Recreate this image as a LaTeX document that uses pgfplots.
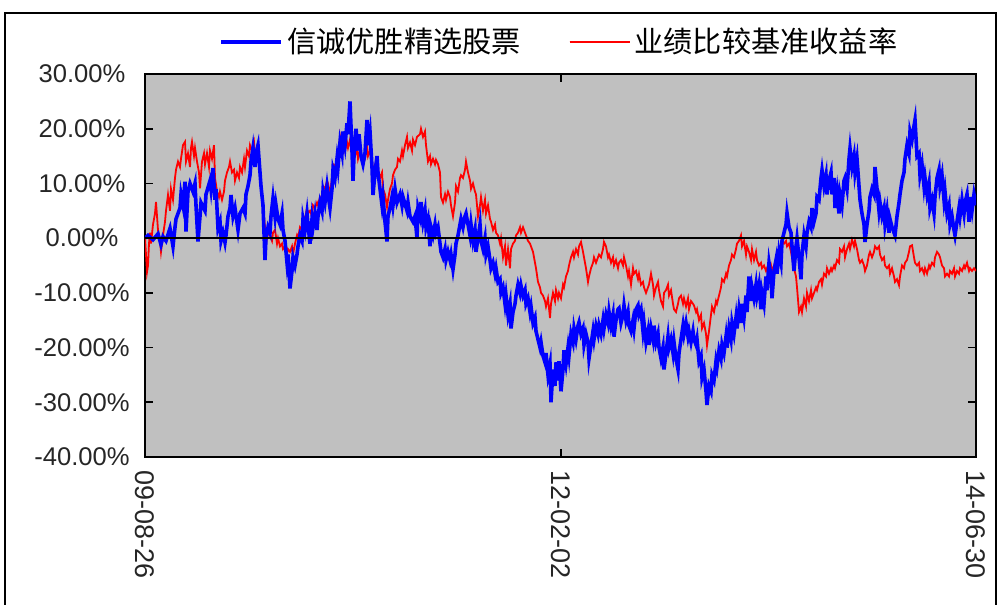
\documentclass[border=0pt]{standalone}
\usepackage{fontspec}
\setmainfont{Liberation Sans}
\newfontfamily\cjk{Noto Sans CJK SC}
\usepackage{pgfplots}
\usepackage{pgfplotstable}
\pgfplotsset{compat=1.18}
\definecolor{plotbg}{RGB}{192,192,192}

% x: position along the period 09-08-26 .. 14-06-30 (0..831), y: cumulative return in %
\pgfplotstableread[row sep=\\]{
x y\\
0 0\\ 3 0.5\\ 8 -0.3\\ 13 0.8\\ 16 -1.2\\ 18 0.3\\ 21 -0.5\\ 25 1.8\\ 28 -1.5\\ 30 2.0\\
31 3.5\\ 35 5.5\\ 36 8\\ 38 6\\ 40 10.3\\ 41 1.2\\ 43 8.5\\ 45 10\\ 48 8.5\\ 50 10\\
51 6\\ 53 -0.6\\ 55 4\\ 56 6.5\\ 60 5\\ 61 8\\ 65 10.5\\ 66 9\\ 68 12.8\\ 70 7\\
71 9\\ 73 1.8\\ 75 3\\ 76 -0.5\\ 78 1.0\\ 80 -0.8\\ 81 0.5\\ 83 4\\ 85 5.5\\ 86 7.9\\
88 4\\ 90 5.5\\ 93 1.5\\ 95 4.5\\ 98 5.5\\ 100 4.5\\ 101 8\\ 103 9.5\\ 105 11.5\\ 106 14\\
108 16.5\\ 110 13\\ 111 15.5\\ 113 17\\ 115 12\\ 116 9.5\\ 118 6\\ 120 -4\\ 121 0\\ 123 2\\
125 1\\ 126 4\\ 128 7.3\\ 130 4\\ 131 6\\ 133 3.5\\ 135 2.5\\ 137 4.5\\ 138 1.5\\ 140 -0.5\\
142 -4.5\\ 143 -3\\ 145 -9.2\\ 147 -6\\ 148 -3.5\\ 150 -5\\ 152 -3\\ 153 -1.5\\ 155 0.5\\ 157 -0.5\\
158 3.5\\ 160 1.5\\ 162 4.5\\ 163 2.5\\ 165 -1\\ 167 3.5\\ 168 2\\ 170 4.5\\ 172 1.5\\ 173 4\\
175 6.5\\ 177 5\\ 178 8.5\\ 180 6.5\\ 182 9.5\\ 183 8\\ 185 5.5\\ 187 9\\ 188 12.5\\ 190 11\\
192 14.5\\ 193 13\\ 195 17.5\\ 197 15.5\\ 198 19.5\\ 200 17\\ 202 21\\ 203 19\\ 205 25\\ 207 16\\
208 10.5\\ 209 15\\ 211 20\\ 213 16\\ 214 19\\ 216 15\\ 218 13.5\\ 220 15.5\\ 222 21.6\\ 223 17\\
225 19.5\\ 227 13\\ 228 7.9\\ 230 12\\ 232 15\\ 233 12\\ 235 9\\ 237 6\\ 238 7.5\\ 240 3\\
242 -0.6\\ 243 4\\ 245 5.5\\ 247 7.5\\ 248 6\\ 250 9\\ 252 6.5\\ 255 8\\ 257 6\\ 258 7.5\\
262 5\\ 263 6.5\\ 265 4\\ 268 3\\ 270 4\\ 272 0\\ 273 5.5\\ 275 4\\ 276 6.6\\ 278 3\\
280 5\\ 281 2\\ 283 3.5\\ 285 -1.5\\ 286 2\\ 288 0.5\\ 290 2.5\\ 291 1\\ 293 2\\ 295 -1\\
296 -2.5\\ 298 -3.5\\ 300 -2\\ 301 -4\\ 303 -2.5\\ 305 -4\\ 306 -3\\ 308 -5.7\\ 310 -3\\ 311 -1\\
313 0.5\\ 315 2.5\\ 316 3.5\\ 318 2\\ 320 4\\ 321 4.5\\ 323 2.5\\ 325 0.5\\ 326 2.5\\ 328 -0.5\\
330 1.5\\ 331 -2.5\\ 333 0\\ 335 2.5\\ 336 -0.5\\ 338 -2\\ 340 0\\ 341 -3\\ 343 -1.5\\ 345 -4\\
346 -5.5\\ 348 -4.5\\ 350 -6.5\\ 351 -5.5\\ 353 -8\\ 355 -7.5\\ 356 -10\\ 358 -9\\ 360 -12\\ 361 -10.5\\
363 -14\\ 365 -12\\ 366 -16.5\\ 368 -13.5\\ 370 -12\\ 371 -10.5\\ 373 -8.5\\ 375 -10\\ 376 -8.7\\ 378 -10.5\\
380 -9.5\\ 381 -12\\ 383 -11\\ 385 -13.5\\ 386 -12.5\\ 388 -15.5\\ 390 -14.5\\ 391 -17\\ 393 -18.5\\ 395 -20\\
396 -19\\ 398 -21.5\\ 400 -22.7\\ 401 -21\\ 403 -25\\ 405 -23\\ 406 -30\\ 408 -24\\ 410 -27\\ 411 -22.7\\
413 -26\\ 414 -22.5\\ 416 -28\\ 418 -24\\ 419 -20.5\\ 421 -23\\ 423 -20\\ 424 -21.5\\ 426 -17.5\\ 428 -19\\
429 -16.5\\ 431 -18.5\\ 433 -16\\ 434 -15.4\\ 436 -17.5\\ 438 -16.5\\ 439 -19.5\\ 441 -17.5\\ 443 -19\\ 444 -22\\
446 -19.5\\ 448 -17\\ 449 -18.5\\ 451 -16\\ 453 -17.5\\ 454 -16\\ 456 -17.5\\ 458 -15\\ 459 -16.5\\ 461 -14\\
463 -15.5\\ 464 -13.5\\ 466 -16\\ 468 -14\\ 469 -18\\ 471 -15\\ 473 -13\\ 474 -12.8\\ 476 -15.5\\ 478 -14\\
479 -12.3\\ 481 -15\\ 483 -13.5\\ 484 -16\\ 486 -17\\ 488 -15\\ 489 -16.5\\ 491 -13\\ 493 -12.3\\ 494 -14\\
496 -13\\ 498 -17\\ 499 -15.5\\ 501 -19\\ 503 -17\\ 504 -19.5\\ 506 -16.5\\ 508 -18.5\\ 509 -16\\ 511 -19\\
513 -17.5\\ 514 -20\\ 516 -22\\ 518 -20\\ 519 -24\\ 521 -21\\ 523 -18\\ 524 -20\\ 526 -18.5\\ 528 -21\\
529 -19\\ 531 -22\\ 533 -24\\ 534 -21\\ 536 -18.5\\ 538 -16\\ 539 -17.5\\ 541 -15.5\\ 543 -18\\ 544 -17\\
546 -19\\ 548 -17\\ 549 -18.5\\ 551 -19.5\\ 552 -18.5\\ 554 -22.5\\ 556 -21.5\\ 557 -25.5\\ 559 -24\\ 561 -28\\
562 -30.5\\ 564 -27\\ 566 -28\\ 567 -25\\ 569 -26\\ 571 -22.5\\ 572 -23.5\\ 574 -20.5\\ 576 -22\\ 577 -19.5\\
579 -21\\ 581 -18\\ 582 -20\\ 584 -16.5\\ 586 -18.5\\ 587 -15.5\\ 589 -17.5\\ 591 -14.5\\ 592 -16.5\\ 594 -13\\
596 -15.5\\ 597 -12\\ 599 -14.5\\ 601 -10.5\\ 602 -13.5\\ 604 -7\\ 606 -11.5\\ 607 -9\\ 609 -11\\ 611 -8.5\\
612 -10.5\\ 614 -8.5\\ 616 -13\\ 617 -10\\ 619 -12\\ 621 -7\\ 622 -9.5\\ 624 -4.5\\ 626 -7\\ 627 -11\\
629 -6\\ 631 -4\\ 632 -6.5\\ 634 -2.5\\ 636 -4.5\\ 637 -0.5\\ 639 1\\ 641 2.5\\ 642 4.6\\ 644 2\\
646 1\\ 647 -1.5\\ 649 -6\\ 651 -1.5\\ 652 0\\ 654 -3.5\\ 656 -7.5\\ 657 -3\\ 659 0.5\\ 661 -1.5\\
662 1\\ 664 3\\ 666 2\\ 667 5.5\\ 669 3\\ 671 4.5\\ 672 7.5\\ 674 7\\ 676 11\\ 677 12.4\\
679 9.5\\ 681 11.5\\ 682 8\\ 684 10.5\\ 686 12\\ 687 8\\ 689 11\\ 690 5.5\\ 692 8.5\\ 694 4.5\\
695 8\\ 697 6\\ 699 10.5\\ 700 11\\ 702 9\\ 704 14.5\\ 705 16.4\\ 707 13\\ 709 15\\ 710 12\\
712 14.5\\ 714 9.5\\ 715 7\\ 717 4.5\\ 719 2.5\\ 720 -0.7\\ 722 2.5\\ 724 5\\ 725 7.5\\ 727 9\\
729 8\\ 730 13\\ 732 9\\ 734 5\\ 735 6.5\\ 737 4\\ 739 5.5\\ 740 2.5\\ 742 5\\ 744 1\\
745 3.5\\ 747 2\\ 749 1\\ 750 0.5\\ 752 4\\ 754 6.5\\ 755 8\\ 757 10.5\\ 759 12\\ 760 14.5\\
762 17\\ 764 15.5\\ 765 19.5\\ 767 18\\ 769 20.5\\ 770 21.6\\ 772 15\\ 774 15.5\\ 775 11.5\\ 777 13.5\\
779 9.5\\ 780 11\\ 782 8\\ 784 10\\ 785 5.5\\ 787 7\\ 789 4.5\\ 790 7.5\\ 792 11\\ 794 12.5\\
795 9.5\\ 797 11.5\\ 799 7\\ 800 8.5\\ 802 4.5\\ 804 6\\ 805 2.5\\ 807 4\\ 809 1.5\\ 810 0.5\\
812 3\\ 814 5.5\\ 815 4\\ 817 7\\ 819 4.5\\ 820 6.5\\ 822 8\\ 824 3\\ 825 7.5\\ 827 5\\
829 8\\ 831 6\\
}\fund

\pgfplotstableread[row sep=\\]{
x y\\
0 0\\ 1 -3\\ 2 -6.2\\ 3 -5\\ 4 -1\\ 5 1\\ 6 -1\\ 8 2.5\\ 10 4.5\\ 11 6.6\\
13 1.5\\ 15 -0.5\\ 16 -2.5\\ 18 0.5\\ 20 3\\ 21 5\\ 23 7.9\\ 25 5\\ 26 9\\ 28 7\\
30 11\\ 31 12.5\\ 33 14\\ 35 13\\ 36 14.5\\ 38 17\\ 40 17.6\\ 41 14\\ 43 15.5\\ 45 13\\
46 16.5\\ 47 17.6\\ 49 15\\ 50 16.5\\ 52 14\\ 54 12\\ 55 9.1\\ 57 14\\ 59 15.5\\ 60 13.5\\
62 15.5\\ 64 13\\ 65 16\\ 67 14.5\\ 69 17\\ 70 11\\ 72 8.5\\ 74 7.5\\ 75 8.5\\ 77 7\\
79 8.5\\ 80 10.5\\ 82 12\\ 84 13\\ 85 14\\ 87 12\\ 89 12.5\\ 90 10.5\\ 92 12\\ 94 11\\
95 13\\ 97 12\\ 99 14.5\\ 100 13\\ 102 16\\ 104 15\\ 105 17\\ 107 16\\ 109 17.5\\ 110 15\\
112 16\\ 113 17.5\\ 115 12\\ 117 8\\ 118 6\\ 120 2\\ 122 0\\ 123 1\\ 125 0.5\\ 127 -0.5\\
128 1\\ 130 1.5\\ 132 -1\\ 133 0\\ 135 -1.5\\ 137 -1\\ 138 -2\\ 140 -1.5\\ 142 -3\\ 143 -2\\
145 -2.5\\ 147 -1.5\\ 148 -3\\ 150 -1\\ 152 0.5\\ 153 0\\ 155 2\\ 157 1.5\\ 158 4\\ 160 3.5\\
162 5.5\\ 163 4.5\\ 165 5\\ 167 4\\ 168 6\\ 170 5.5\\ 172 6.5\\ 173 6\\ 175 7.5\\ 177 7\\
178 9.5\\ 180 9\\ 182 10.5\\ 183 10\\ 185 8\\ 187 11\\ 188 13.5\\ 190 13\\ 192 14.5\\ 193 14\\
195 18.5\\ 197 16\\ 198 17.5\\ 200 16\\ 202 17.5\\ 203 16.5\\ 205 18\\ 207 15\\ 208 13.5\\ 210 15\\
212 16.5\\ 213 14.5\\ 215 16\\ 217 14\\ 218 13.5\\ 220 14.5\\ 222 17\\ 223 15\\ 225 16\\ 227 14\\
228 12\\ 230 13.5\\ 232 14\\ 233 12.5\\ 235 11\\ 237 12\\ 238 9\\ 240 8\\ 242 5.7\\ 243 7\\
245 9\\ 247 10\\ 248 11.5\\ 250 12.5\\ 252 13\\ 253 14.5\\ 255 14\\ 257 16\\ 258 15\\ 260 17\\
262 18.5\\ 263 16.5\\ 265 17.5\\ 267 16\\ 268 18\\ 270 17\\ 272 18.5\\ 275 19\\ 276 20\\ 278 18.5\\
280 19.5\\ 281 17\\ 283 14\\ 285 15\\ 286 13.5\\ 288 14.5\\ 290 13.5\\ 291 14.3\\ 293 13.5\\ 295 12\\
296 7.5\\ 298 6.5\\ 300 8\\ 301 7\\ 303 8.5\\ 305 7.5\\ 306 6\\ 308 4\\ 310 6.5\\ 311 9.5\\
313 8.5\\ 315 11\\ 316 11.5\\ 318 11\\ 320 12.5\\ 321 14\\ 323 12\\ 325 10.5\\ 326 9\\ 328 10\\
330 8.5\\ 331 8\\ 333 4\\ 335 6\\ 336 7.5\\ 338 5\\ 340 7\\ 341 4.5\\ 343 6\\ 345 3.5\\
346 3\\ 348 1.5\\ 350 2.5\\ 351 1\\ 353 0.5\\ 355 -1\\ 356 0\\ 358 -3.5\\ 360 -1.5\\ 361 -5\\
363 -2\\ 365 -5.5\\ 366 -2\\ 368 -1\\ 370 -0.5\\ 371 0.5\\ 373 1\\ 375 2\\ 376 1\\ 378 2\\
380 1\\ 381 0.5\\ 383 -0.5\\ 385 -1\\ 386 -1.5\\ 388 -2.5\\ 390 -4.5\\ 391 -5.5\\ 393 -8\\ 395 -9\\
396 -10\\ 398 -10.5\\ 400 -11.5\\ 401 -12.5\\ 403 -11\\ 405 -14.6\\ 406 -12\\ 408 -10\\ 410 -11.5\\ 411 -9.5\\
413 -11\\ 414 -10\\ 416 -11\\ 418 -8.5\\ 419 -9\\ 421 -7\\ 423 -6\\ 424 -5\\ 426 -3.5\\ 428 -2.5\\
429 -3.5\\ 431 -2\\ 433 -3\\ 434 -1.5\\ 436 -0.7\\ 438 -2.5\\ 439 -3.5\\ 441 -5.5\\ 443 -8\\ 444 -7\\
446 -5.5\\ 448 -4.5\\ 449 -3.5\\ 451 -4.5\\ 453 -3.5\\ 454 -3\\ 456 -3.5\\ 458 -2\\ 459 -0.7\\ 461 -1.5\\
463 -3.5\\ 464 -3\\ 466 -4.5\\ 468 -3.5\\ 469 -5\\ 471 -4\\ 473 -5.5\\ 474 -4.5\\ 476 -4\\ 478 -5\\
479 -3.5\\ 481 -5\\ 483 -7\\ 484 -6\\ 486 -8.5\\ 488 -5.5\\ 489 -6.5\\ 491 -6\\ 493 -7.5\\ 494 -6.5\\
496 -8.5\\ 498 -8\\ 499 -9\\ 501 -10\\ 503 -9\\ 504 -8.5\\ 506 -6.5\\ 508 -8.5\\ 509 -10.5\\ 511 -9\\
513 -8\\ 514 -9.5\\ 516 -11.5\\ 518 -12.5\\ 519 -10\\ 521 -9.5\\ 523 -8.5\\ 524 -10.5\\ 526 -9.5\\ 528 -12\\
529 -13\\ 531 -13.5\\ 533 -12\\ 534 -11\\ 536 -10.5\\ 538 -12\\ 539 -11\\ 541 -12.5\\ 543 -11\\ 544 -13\\
546 -11.5\\ 548 -12\\ 549 -12.3\\ 551 -13.5\\ 552 -13\\ 554 -15\\ 556 -14\\ 557 -16.5\\ 559 -15.5\\ 561 -17.5\\
562 -19.6\\ 564 -17\\ 566 -14\\ 567 -12.5\\ 569 -13.5\\ 571 -11.5\\ 572 -12\\ 574 -10.5\\ 576 -9\\ 577 -7.5\\
579 -8\\ 581 -6.5\\ 582 -7\\ 584 -5\\ 586 -4\\ 587 -3\\ 589 -3.5\\ 591 -2\\ 592 -1\\ 594 -0.5\\
596 0.5\\ 597 -1.5\\ 599 -0.5\\ 601 -3\\ 602 -1.5\\ 604 -2.5\\ 606 -4\\ 607 -2\\ 609 -4\\ 611 -2.5\\
612 -4\\ 614 -5\\ 616 -4.5\\ 617 -5.5\\ 619 -5\\ 621 -6\\ 622 -5.5\\ 624 -6.5\\ 626 -5\\ 627 -6\\
629 -5\\ 631 -4\\ 632 -3\\ 634 -2.5\\ 636 -1.5\\ 637 -0.5\\ 639 -1\\ 641 -0.5\\ 642 -1.5\\ 644 -1\\
646 -2.5\\ 647 -3.5\\ 649 -5.5\\ 651 -7\\ 652 -9\\ 654 -13.5\\ 656 -12.5\\ 657 -13.5\\ 659 -11\\ 661 -12.5\\
662 -10\\ 664 -11.5\\ 666 -9.5\\ 667 -11\\ 669 -10\\ 671 -9\\ 672 -9.5\\ 674 -8\\ 676 -7.5\\ 677 -8.5\\
679 -6.5\\ 681 -7\\ 682 -5.5\\ 684 -6.5\\ 686 -5.5\\ 687 -6\\ 689 -5\\ 690 -5.5\\ 692 -4\\ 694 -4.5\\
695 -2\\ 697 -2.5\\ 699 -1.5\\ 700 -3.5\\ 702 -2\\ 704 -1\\ 705 -2\\ 707 -0.3\\ 709 -1.5\\ 710 -0.5\\
712 -2\\ 714 -4\\ 715 -4.5\\ 717 -4\\ 719 -5\\ 720 -6\\ 722 -5\\ 724 -3\\ 725 -2.5\\ 727 -3.5\\
729 -2.5\\ 730 -1.5\\ 732 -2\\ 734 -1.5\\ 735 -3\\ 737 -4\\ 739 -3.5\\ 740 -5\\ 742 -5.5\\ 744 -5\\
745 -6.5\\ 747 -5.5\\ 749 -7\\ 750 -8\\ 752 -7.5\\ 754 -8.6\\ 755 -7\\ 757 -5\\ 759 -5.5\\ 760 -4.5\\
762 -4\\ 764 -2.5\\ 765 -1.5\\ 767 -1.3\\ 769 -3.5\\ 770 -4.5\\ 772 -5\\ 774 -4.5\\ 775 -6\\ 777 -5.5\\
779 -6.5\\ 780 -5.5\\ 782 -6.5\\ 784 -5\\ 785 -5.5\\ 787 -4.5\\ 789 -5\\ 790 -3.5\\ 792 -2.5\\ 794 -3\\
795 -3.5\\ 797 -5\\ 799 -5.5\\ 800 -7\\ 802 -6.5\\ 804 -7\\ 805 -6\\ 807 -6.5\\ 809 -5.5\\ 810 -7\\
812 -6\\ 814 -6.5\\ 815 -5.5\\ 817 -6\\ 819 -5\\ 820 -5.5\\ 822 -4.5\\ 824 -6\\ 825 -5.5\\ 827 -6\\
829 -5.5\\ 831 -6\\
}\bench

\begin{document}
\begin{tikzpicture}
\path[use as bounding box] (-72.5bp,-74bp) rectangle (426.5bp,228.5bp);
\begin{axis}[
  at={(0,0)}, anchor=south west,
  scale only axis, width=415.5bp, height=191.5bp,
  xmin=0, xmax=831, ymin=-40, ymax=30,
  axis background/.style={fill=plotbg},
  axis line style={black, line width=0.9bp},
  xtick={0,416,831},
  xticklabels={09-08-26,12-02-02,14-06-30},
  ytick={-40,-30,-20,-10,0,10,20,30},
  yticklabels={-40.00\%,-30.00\%,-20.00\%,-10.00\%,0.00\%,10.00\%,20.00\%,30.00\%},
  tick align=inside, major tick length=4bp,
  xtick pos=both, ytick pos=both,
  xticklabel pos=lower, yticklabel pos=left,
  tick style={black, line width=0.9bp},
  yticklabel style={anchor=center, xshift=-31.5bp, text=black!85,
    font=\fontsize{12.8bp}{14bp}\selectfont},
  xticklabel style={yshift=-6.5bp, rotate=-90, anchor=west, inner sep=0pt,
    text=black!85, font=\fontsize{13.5bp}{15bp}\selectfont},
  legend style={at={(0.5,1)}, anchor=center, yshift=16bp, draw=none, fill=none,
    legend columns=2, font=\cjk\fontsize{14.6bp}{16bp}\selectfont,
    /tikz/every even column/.append style={column sep=22bp}},
  legend image code/.code={\draw[#1] (0bp,0bp) -- (27.5bp,0bp); \path (0bp,0bp) -- (30bp,0bp);},
  reverse legend,
]
\addplot[red, line width=0.9bp] table {\bench};
\addlegendentry{业绩比较基准收益率}
\addplot[blue, line width=1.8bp] table {\fund};
\addlegendentry{信诚优胜精选股票}
\addplot[black, line width=0.9bp, forget plot] coordinates {(0,0) (831,0)};
\end{axis}
\draw[line width=1bp] (-70bp,-90bp) -- (-70bp,222bp) -- (425.5bp,222bp) -- (425.5bp,-90bp);
\end{tikzpicture}
\end{document}
